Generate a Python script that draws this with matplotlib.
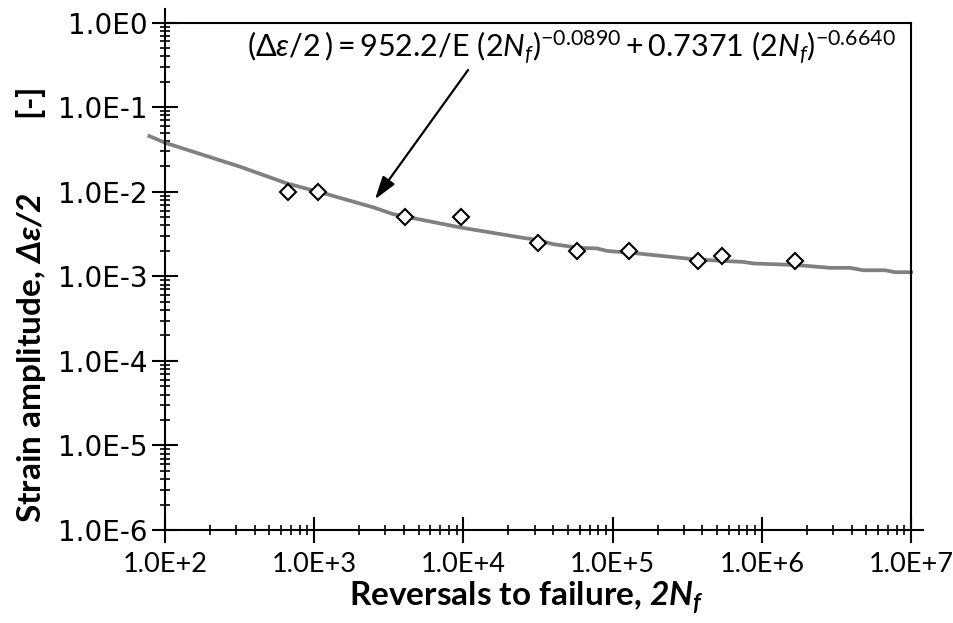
import matplotlib
matplotlib.use('Agg')
import matplotlib.pyplot as plt
from matplotlib.ticker import FixedLocator, FixedFormatter, LogLocator, NullFormatter

# test results: reversals to failure vs strain amplitude
reversals = [664, 1065, 4060, 9590, 31800, 58000, 128800, 375000, 543000, 1680000]
strain_amp = [0.010, 0.010, 0.0050, 0.0050, 0.0025, 0.0020, 0.0020, 0.0015, 0.00175, 0.0015]

# fitted strain-life curve
fit_x = [78.5, 100, 318, 655, 1213, 2490, 3375, 9480, 23930, 31770, 39900, 60400,
         78200, 91300, 145000, 366000, 752000, 877000, 1.71e6, 2.87e6, 3.90e6,
         4.79e6, 6.69e6, 7.81e6, 1e7]
fit_y = [0.0456, 0.0380, 0.0198, 0.01257, 0.00939, 0.00654, 0.00544, 0.00379, 0.00289,
         0.00268, 0.00240, 0.00217, 0.00214, 0.00200, 0.00187, 0.00158, 0.00148,
         0.00142, 0.00136, 0.00126, 0.00126, 0.00118, 0.00118, 0.00112, 0.00112]

x_ticks = [1e2, 1e3, 1e4, 1e5, 1e6, 1e7]
x_labels = ['1.0E+2', '1.0E+3', '1.0E+4', '1.0E+5', '1.0E+6', '1.0E+7']
y_ticks = [1e-6, 1e-5, 1e-4, 1e-3, 1e-2, 1e-1, 1e0]
y_labels = ['1.0E-6', '1.0E-5', '1.0E-4', '1.0E-3', '1.0E-2', '1.0E-1', '1.0E0']

narrow = 'Lato'
plt.rcParams['mathtext.fontset'] = 'custom'
plt.rcParams['mathtext.rm'] = narrow
plt.rcParams['mathtext.it'] = narrow + ':italic'
plt.rcParams['mathtext.bf'] = narrow + ':bold'
plt.rcParams['mathtext.bfit'] = narrow + ':italic:bold'

fig = plt.figure(figsize=(9.54, 6.23), dpi=100)
ax = fig.add_axes([0.173, 0.1493, 0.782, 0.8143])

ax.plot(fit_x, fit_y, color='#808080', lw=2.7, clip_on=False, zorder=2)
ax.plot(reversals, strain_amp, 'D', ms=8, mfc='white', mec='black', mew=1.5, zorder=3)

ax.set_xscale('log')
ax.set_yscale('log')
ax.set_xlim(1e2, 1e7)
ax.set_ylim(1e-6, 1e0)

ax.xaxis.set_major_locator(FixedLocator(x_ticks))
ax.xaxis.set_major_formatter(FixedFormatter(x_labels))
ax.yaxis.set_major_locator(FixedLocator(y_ticks))
ax.yaxis.set_major_formatter(FixedFormatter(y_labels))
ax.xaxis.set_minor_locator(LogLocator(base=10, subs=range(2, 10), numticks=20))
ax.yaxis.set_minor_locator(LogLocator(base=10, subs=range(2, 10), numticks=20))
ax.xaxis.set_minor_formatter(NullFormatter())
ax.yaxis.set_minor_formatter(NullFormatter())

ax.tick_params(which='major', direction='inout', length=19, width=1.5)
ax.tick_params(which='minor', direction='inout', length=7.5, width=1.2)
ax.tick_params(axis='x', pad=6, labelsize=19.5)
ax.tick_params(axis='y', pad=3, labelsize=20)
for lab in ax.get_xticklabels():
    lab.set_family(narrow)
for lab in ax.get_yticklabels():
    lab.set_family('DejaVu Sans')

for s in ax.spines.values():
    s.set_linewidth(1.5)
ax.spines['left'].set_bounds(1e-6, 1.47)
ax.spines['bottom'].set_bounds(1e2, 1.2e7)

ax.text(0.545, 0.932,
        r'$(\mathit{\Delta\varepsilon/2}\,) = 952.2/\mathrm{E}\ (2N_{\mathit{f}})^{-0.0890}'
        r' + 0.7371\ (2N_{\mathit{f}})^{-0.6640}$',
        transform=ax.transAxes, ha='center', va='baseline', fontsize=22)
ax.annotate('', xy=(2550, 0.00813), xytext=(10740, 0.2756),
            arrowprops=dict(arrowstyle='-|>,head_length=0.7,head_width=0.22',
                            color='black', lw=1.6,
                            mutation_scale=20, shrinkA=0, shrinkB=0))

fig.text(0.552, 0.04, r'Reversals to failure, $\mathbfit{2N}_{\mathbfit{f}}$',
         ha='center', va='center', fontsize=24, fontweight='bold', family=narrow)
fig.text(0.032, 0.51, r'Strain amplitude, $\mathbfit{\Delta\varepsilon/2}$         [-]',
         ha='center', va='center', rotation=90, fontsize=24, fontweight='bold',
         family=narrow)

fig.savefig('out.png', dpi=100)
